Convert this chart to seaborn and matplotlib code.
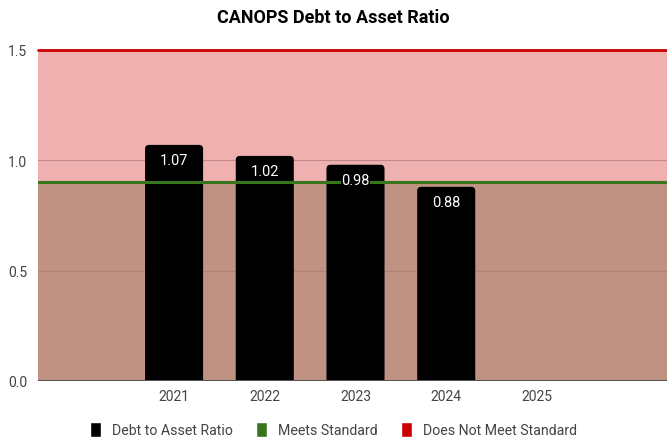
import matplotlib.pyplot as plt
import pandas as pd
import seaborn as sns
from matplotlib.patches import FancyBboxPatch, Patch

# dữ liệu
years = ["", "2021", "2022", "2023", "2024", "2025", " "]
ratio = [None, 1.07, 1.02, 0.98, 0.88, None, None]
labels = ["", "1.07", "1.02", "0.98", "0.88", "", ""]
standard = 0.9
y_max = 1.5
y_ticks = [0, 0.5, 1.0, 1.5]

df = pd.DataFrame({"Year": years, "Ratio": ratio})

sns.set_style("white")
plt.rcParams['font.family'] = ['Roboto', 'DejaVu Sans']

fig = plt.figure(figsize=(6.67, 4.39), dpi=100)
ax = fig.add_axes([38 / 667, 57 / 439, 635 / 667, 331 / 439])

sns.barplot(data=df, x="Year", y="Ratio", color="black", width=0.64,
            saturation=1, ax=ax, zorder=2)

# bo góc cột
for p in list(ax.containers[0]):
    x, w, h = p.get_x(), p.get_width(), p.get_height()
    p.remove()
    if not h or h != h:
        continue
    fb = FancyBboxPatch((x, -0.05), w, h + 0.05,
                        boxstyle="round,pad=0,rounding_size=0.045",
                        mutation_aspect=0.41, fc="black", ec="none", zorder=2)
    ax.add_patch(fb)

# nền: vùng đạt chuẩn và không đạt chuẩn
ax.axhspan(0, standard, color="#c09282", zorder=0, lw=0)
ax.axhspan(standard, y_max, color="#efb0b0", zorder=0, lw=0)

# lưới ngang nằm dưới cột
ax.grid(False)
for t in y_ticks[1:-1]:
    ax.axhline(t, color="#b07878", lw=0.8, alpha=0.7, zorder=1)

for i, (v, t) in enumerate(zip(ratio, labels)):
    if v is None:
        continue
    ax.annotate(t, xy=(i, v), xytext=(0, -6), textcoords="offset points",
                ha="center", va="top", color="white", fontsize=10.5, zorder=5,
                bbox=dict(boxstyle="square,pad=0.05", fc="black", ec="none"))

ax.set_xlim(-0.5, 6.5)
ax.set_ylim(0, y_max)
ax.set_yticks(y_ticks)
ax.set_yticklabels(["0.0", "0.5", "1.0", "1.5"])

ax.axhline(standard, color="#38761d", lw=2.2, zorder=3)
ax.axhline(y_max, color="#cc0000", lw=2, zorder=3, clip_on=False)
ax.axhline(0, color="#555555", lw=1.5, zorder=4)

for s in ax.spines.values():
    s.set_visible(False)
ax.tick_params(axis="both", length=0, labelsize=10, labelcolor="#444444")
ax.tick_params(axis="x", pad=6)
ax.tick_params(axis="y", pad=8)
ax.set_xlabel("")
ax.set_ylabel("")

fig.suptitle("CANOPS Debt to Asset Ratio", x=0.5, y=0.98, fontsize=13,
             fontweight="bold", color="black")

handles = [Patch(fc="black", label="Debt to Asset Ratio"),
           Patch(fc="#38761d", label="Meets Standard"),
           Patch(fc="#cc0000", label="Does Not Meet Standard")]
fig.legend(handles=handles, loc="lower center", bbox_to_anchor=(0.5, -0.027),
           ncol=3, frameon=False, fontsize=10.2, labelcolor="#444444",
           handlelength=0.8, handleheight=1.3, columnspacing=1.6,
           handletextpad=0.8)

plt.savefig("out.png", dpi=100)
